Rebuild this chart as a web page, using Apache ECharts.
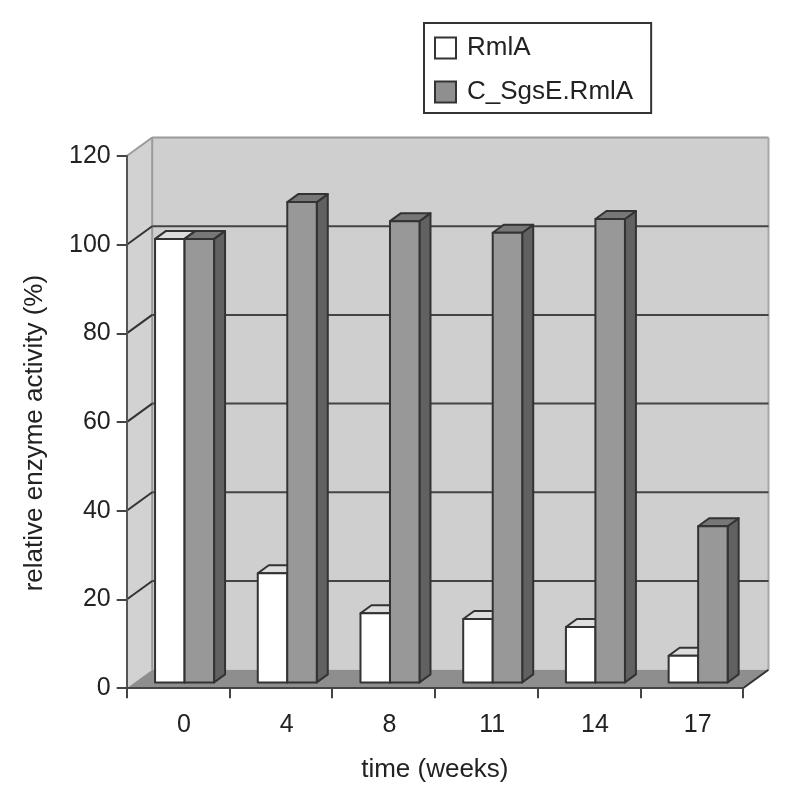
<!DOCTYPE html>
<html><head><meta charset="utf-8">
<style>html,body{margin:0;padding:0;background:#fff}#c{width:800px;height:792px}</style>
<script src="https://cdn.jsdelivr.net/npm/echarts@6/dist/echarts.min.js"></script>
</head><body><div id="c"></div>
<script>
const categories = ['0','4','8','11','14','17'];
const rmlA = [100,24.6,15.6,14.3,12.5,6];
const cSgsE = [100,108.3,104,101.4,104.5,35.2];
const yTicks = [0,20,40,60,80,100,120];
const wallDX = 25.5, wallDY = -18.5;
const barDX = 11, barDY = -8, barShiftX = 6.5, barShiftY = -5.8, barW = 29.5;
const ink = '#333';

function poly(points, fill, stroke, lw, z2){
  return {type:'polygon', z2:z2||0, shape:{points}, style:{fill, stroke:stroke||null, lineWidth:lw||0, lineJoin:'round'}};
}
function line(x1,y1,x2,y2,stroke,lw){
  return {type:'line', shape:{x1,y1,x2,y2}, style:{stroke, lineWidth:lw, fill:null}};
}
function wallItem(params, api){
  const cs = params.coordSys;
  const l = cs.x, r = cs.x + cs.width, b = api.coord([0,0])[1], t = api.coord([0,120])[1];
  return {type:'group', children:[
    poly([[l,b],[l+wallDX,b+wallDY],[l+wallDX,t+wallDY],[l,t]], '#d2d2d2'),
    poly([[l+wallDX,b+wallDY],[r+wallDX,b+wallDY],[r+wallDX,t+wallDY],[l+wallDX,t+wallDY]], '#cfcfcf'),
    poly([[l,b],[r,b],[r+wallDX,b+wallDY],[l+wallDX,b+wallDY]], '#8e8e8e'),
    line(l+wallDX,t+wallDY,r+wallDX,t+wallDY,'#9a9a9a',2),
    line(r+wallDX,t+wallDY,r+wallDX,b+wallDY,'#a8a8a8',2),
    line(l+wallDX,t+wallDY,l+wallDX,b+wallDY,'#9a9a9a',2),
    line(l,t,l+wallDX,t+wallDY,'#9a9a9a',2),
    line(r,b,r+wallDX,b+wallDY,ink,2)
  ]};
}
function gridItem(params, api){
  const cs = params.coordSys, v = api.value(0), y = api.coord([0,v])[1];
  const l = cs.x, r = cs.x + cs.width;
  if (v === 0 || v === 120) return {type:'group', children:[]};
  return {type:'group', children:[
    line(l,y,l+wallDX,y+wallDY,ink,2),
    line(l+wallDX,y+wallDY,r+wallDX,y+wallDY,'#444',2)
  ]};
}
function barRender(slot, front, top, side){
  return function(params, api){
    const idx = api.value(0), val = api.value(1);
    const p = api.coord([idx,val]), base = api.coord([idx,0]);
    const xl = p[0] + barShiftX + (slot === 0 ? -barW : 0), xr = xl + barW;
    const yt = p[1] + barShiftY, yb = base[1] + barShiftY;
    return {type:'group', children:[
      poly([[xr,yb],[xr+barDX,yb+barDY],[xr+barDX,yt+barDY],[xr,yt]], side, ink, 2),
      poly([[xl,yt],[xr,yt],[xr+barDX,yt+barDY],[xl+barDX,yt+barDY]], top, ink, 2),
      poly([[xl,yb],[xr,yb],[xr,yt],[xl,yt]], front, ink, 2)
    ]};
  };
}
const font = '"Liberation Sans", Arial, sans-serif';
const chart = echarts.init(document.getElementById('c'), null, {renderer:'canvas'});
chart.setOption({
  animation:false,
  backgroundColor:'#fff',
  grid:{left:126.7, right:57, top:156, height:532.2, outerBoundsMode:'none'},
  legend:{
    left:424, top:23, orient:'vertical',
    data:[{name:'RmlA', icon:'rect'},{name:'C_SgsE.RmlA', icon:'rect'}],
    padding:[12,18,8,10], itemGap:18, itemWidth:21, itemHeight:21,
    borderColor:'#333', borderWidth:2, backgroundColor:'#fff',
    textStyle:{fontFamily:font, fontSize:26, color:'#222', padding:[0,0,0,6]}
  },
  xAxis:{
    type:'category', data:categories, name:'time (weeks)', nameLocation:'middle', nameGap:69,
    nameTextStyle:{fontFamily:font, fontSize:26, color:'#222'},
    axisLine:{lineStyle:{color:'#444',width:2}},
    axisTick:{show:true, length:10, alignWithLabel:false, lineStyle:{color:'#444',width:2}},
    axisLabel:{fontFamily:font, fontSize:25, color:'#222', margin:24, padding:[0,0,0,12]},
    splitLine:{show:false}, z:5
  },
  yAxis:{
    type:'value', min:0, max:120, interval:20, name:'relative enzyme activity (%)', nameLocation:'middle', nameGap:79,
    nameTextStyle:{fontFamily:font, fontSize:26, color:'#222', padding:[0,22,0,0]},
    axisLine:{show:true, lineStyle:{color:'#555',width:2}},
    axisTick:{show:true, length:10, lineStyle:{color:'#444',width:2}},
    axisLabel:{fontFamily:font, fontSize:25, color:'#222', margin:16},
    splitLine:{show:false}, z:5
  },
  series:[
    {type:'custom', name:'wall', silent:true, z:1, data:[[0]], renderItem:wallItem},
    {type:'custom', name:'grid', silent:true, z:2, data:yTicks.map(v=>[v]), encode:{y:0}, renderItem:gridItem},
    {type:'custom', name:'RmlA', z:3, data:rmlA.map((v,i)=>[i,v]), encode:{x:0,y:1},
     itemStyle:{color:'#fff', borderColor:ink, borderWidth:2},
     renderItem:barRender(0,'#ffffff','#dedede','#bdbdbd')},
    {type:'custom', name:'C_SgsE.RmlA', z:4, data:cSgsE.map((v,i)=>[i,v]), encode:{x:0,y:1},
     itemStyle:{color:'#8f8f8f', borderColor:ink, borderWidth:2},
     renderItem:barRender(1,'#989898','#777777','#616161')}
  ]
});
</script></body></html>
